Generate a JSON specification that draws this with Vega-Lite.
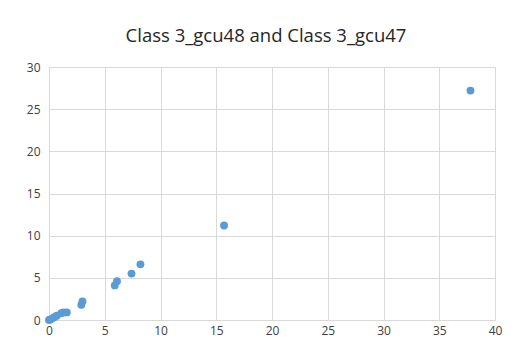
{
  "$schema": "https://vega.github.io/schema/vega-lite/v6.json",
  "width": 446,
  "height": 253,
  "autosize": "none",
  "padding": {"left": 49, "top": 67, "right": 21, "bottom": 29},
  "background": "white",
  "title": {
    "text": "Class 3_gcu48 and Class 3_gcu47",
    "font": "Open Sans",
    "fontSize": 18.5,
    "fontWeight": "normal",
    "color": "#262626",
    "anchor": "middle",
    "dx": -6,
    "offset": 16
  },
  "data": {
    "values": [
      {"x": 0, "y": 0},
      {"x": 0.1, "y": 0.05},
      {"x": 0.3, "y": 0.2},
      {"x": 0.5, "y": 0.35},
      {"x": 0.7, "y": 0.5},
      {"x": 1.1, "y": 0.8},
      {"x": 1.3, "y": 0.9},
      {"x": 1.6, "y": 0.9},
      {"x": 2.9, "y": 1.8},
      {"x": 3.0, "y": 2.2},
      {"x": 5.9, "y": 4.1},
      {"x": 6.1, "y": 4.6},
      {"x": 7.4, "y": 5.5},
      {"x": 8.2, "y": 6.6},
      {"x": 15.7, "y": 11.2},
      {"x": 37.8, "y": 27.2}
    ]
  },
  "mark": {"type": "circle", "size": 62, "color": "#5B9BD5", "opacity": 1},
  "encoding": {
    "x": {
      "field": "x",
      "type": "quantitative",
      "scale": {"domain": [0, 40], "nice": false, "zero": true},
      "axis": {
        "title": null,
        "values": [0, 5, 10, 15, 20, 25, 30, 35, 40],
        "grid": true,
        "gridColor": "#D9D9D9",
        "domainColor": "#D9D9D9",
        "ticks": false,
        "labelFont": "Open Sans",
        "labelFontSize": 12,
        "labelColor": "#404040",
        "labelPadding": 5,
        "labelFlush": false
      }
    },
    "y": {
      "field": "y",
      "type": "quantitative",
      "scale": {"domain": [0, 30], "nice": false},
      "axis": {
        "title": null,
        "values": [0, 5, 10, 15, 20, 25, 30],
        "grid": true,
        "gridColor": "#D9D9D9",
        "domainColor": "#D9D9D9",
        "ticks": false,
        "labelFont": "Open Sans",
        "labelFontSize": 12,
        "labelColor": "#404040",
        "labelPadding": 9,
        "labelFlush": false
      }
    }
  },
  "config": {"view": {"stroke": null}}
}
